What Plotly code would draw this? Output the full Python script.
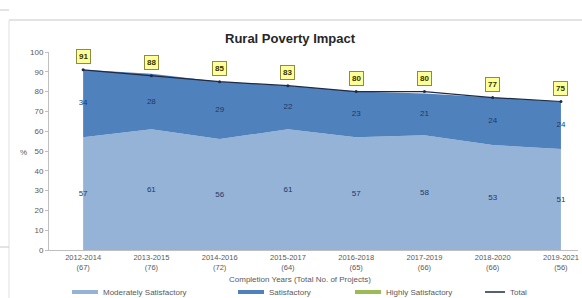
import plotly.graph_objects as go

categories = ["2012-2014<br>(67)", "2013-2015<br>(76)", "2014-2016<br>(72)", "2015-2017<br>(64)",
              "2016-2018<br>(65)", "2017-2019<br>(66)", "2018-2020<br>(66)", "2019-2021<br>(56)"]
moderately = [57, 61, 56, 61, 57, 58, 53, 51]
satisfactory = [34, 28, 29, 22, 23, 21, 24, 24]
highly = [0, 0, 0, 0, 0, 0, 0, 0]
total = [91, 88, 85, 83, 80, 80, 77, 75]

W, H = 582, 298
L, R, T, B = 49, 4, 52, 48
PW, PH = W - L - R, H - T - B

def px(x):
    return (x - L) / PW

def py(y):
    return (H - B - y) / PH

C_LIGHT = "#95b3d7"
C_DARK = "#4f81bd"
C_GREEN = "#9bbb59"
C_TOTAL = "#1f2a44"
TXT = "#595959"
FONT = "Liberation Sans"

xs = list(range(len(categories)))
fig = go.Figure()
fig.add_trace(go.Scatter(x=xs, y=moderately, stackgroup="s", mode="none", fillcolor=C_LIGHT,
                         name="Moderately Satisfactory", showlegend=False))
fig.add_trace(go.Scatter(x=xs, y=satisfactory, stackgroup="s", mode="none", fillcolor=C_DARK,
                         name="Satisfactory", showlegend=False))
fig.add_trace(go.Scatter(x=xs, y=highly, stackgroup="s", mode="none", fillcolor=C_GREEN,
                         name="Highly Satisfactory", showlegend=False))
fig.add_trace(go.Scatter(x=xs, y=total, mode="lines+markers", line=dict(color=C_TOTAL, width=1.2),
                         marker=dict(size=3, color=C_TOTAL), name="Total", showlegend=False))

# value labels inside areas
fig.add_trace(go.Scatter(x=xs, y=[m / 2 for m in moderately], mode="text",
                         text=[str(v) for v in moderately],
                         textfont=dict(size=8, color="#1f3864", family=FONT), showlegend=False))
fig.add_trace(go.Scatter(x=xs, y=[m + s / 2 for m, s in zip(moderately, satisfactory)], mode="text",
                         text=[str(v) for v in satisfactory],
                         textfont=dict(size=8, color="#1f3864", family=FONT), showlegend=False))

annotations = []
for x, t in zip(xs, total):
    annotations.append(dict(x=x, y=t, xref="x", yref="y", text="<b>%d</b>" % t, showarrow=False,
                            yshift=13, font=dict(size=8, color="#333300", family=FONT),
                            bgcolor="#ffff99", bordercolor="#8c8c3a", borderwidth=1, borderpad=2))

annotations.append(dict(x=px(290), y=py(38), xref="paper", yref="paper", text="<b>Rural Poverty Impact</b>",
                        showarrow=False, font=dict(size=13, color="#262626", family=FONT),
                        xanchor="center", yanchor="middle"))
annotations.append(dict(x=px(18), y=py(152), xref="paper", yref="paper", text="%",
                        showarrow=False, font=dict(size=8, color=TXT, family=FONT)))
annotations.append(dict(x=px(300), y=py(279), xref="paper", yref="paper",
                        text="Completion Years (Total No. of Projects)", showarrow=False,
                        font=dict(size=8, color=TXT, family=FONT), xanchor="center", yanchor="middle"))

shapes = []
legend_items = [("Moderately Satisfactory", C_LIGHT, 72, "rect"),
                ("Satisfactory", C_DARK, 238, "rect"),
                ("Highly Satisfactory", C_GREEN, 355, "rect"),
                ("Total", C_TOTAL, 485, "line")]
ly = 292
for name, col, x0, kind in legend_items:
    if kind == "rect":
        shapes.append(dict(type="rect", xref="paper", yref="paper", x0=px(x0), x1=px(x0 + 26),
                           y0=py(ly + 2), y1=py(ly - 2), fillcolor=col, line=dict(width=0)))
    else:
        shapes.append(dict(type="line", xref="paper", yref="paper", x0=px(x0), x1=px(x0 + 20),
                           y0=py(ly), y1=py(ly), line=dict(color=col, width=1.5)))
    annotations.append(dict(x=px(x0 + (29 if kind == "rect" else 23)), y=py(ly), xref="paper", yref="paper",
                            text=name, showarrow=False, xanchor="left", yanchor="middle",
                            font=dict(size=8, color=TXT, family=FONT)))

# frame lines of the surrounding document
shapes.append(dict(type="line", xref="paper", yref="paper", x0=px(9), x1=px(582), y0=py(20), y1=py(20),
                   line=dict(color="#c8c8c8", width=1)))
shapes.append(dict(type="line", xref="paper", yref="paper", x0=px(9), x1=px(9), y0=py(20), y1=py(298),
                   line=dict(color="#e0e0e0", width=1)))
shapes.append(dict(type="line", xref="paper", yref="paper", x0=px(0), x1=px(9), y0=py(10), y1=py(10),
                   line=dict(color="#c8c8c8", width=1)))
shapes.append(dict(type="line", xref="paper", yref="paper", x0=px(0), x1=px(9), y0=py(247), y1=py(247),
                   line=dict(color="#c8c8c8", width=1)))

fig.update_layout(
    width=W, height=H, margin=dict(l=L, r=R, t=T, b=B, autoexpand=False),
    paper_bgcolor="white", plot_bgcolor="white",
    font=dict(family=FONT, size=8, color=TXT),
    showlegend=False,
    annotations=annotations, shapes=shapes,
    xaxis=dict(range=[-0.5, 7.25], tickmode="array", tickvals=xs, ticktext=categories, automargin=False,
               showgrid=False, zeroline=False, showline=True, linecolor="#bfbfbf", linewidth=1,
               ticks="", tickfont=dict(size=7.5, color=TXT, family=FONT)),
    yaxis=dict(range=[0, 100], dtick=10, showgrid=False, zeroline=False, showline=True, automargin=False,
               linecolor="#bfbfbf", linewidth=1, ticks="outside", ticklen=3, tickcolor="#bfbfbf",
               tickfont=dict(size=8, color=TXT, family=FONT)),
)
fig.write_html("out.html", config={"displayModeBar": False},
               post_script="document.body.style.margin='0';document.body.style.overflow='hidden';")
